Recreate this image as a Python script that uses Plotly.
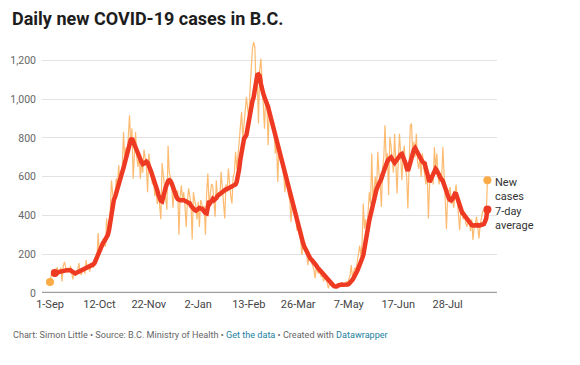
import pandas as pd
import plotly.graph_objects as go

start_date = "2020-09-01"

# Daily new cases (one value per day from 1-Sep)
new_cases = [
    57, 100, 120, 90, 110, 125, 130, 100, 115, 130,
    60, 140, 160, 120, 105, 130, 115, 140, 100, 70,
    110, 90, 100, 120, 155, 100, 95, 110, 130, 100,
    170, 120, 140, 110, 150, 145, 130, 170, 160, 180,
    310, 200, 250, 230, 280, 250, 240, 385, 300, 350,
    420, 580, 500, 450, 500, 590, 550, 660, 570, 600,
    650, 830, 690, 750, 700, 810, 917, 760, 850, 590,
    720, 830, 700, 650, 720, 590, 680, 620, 740, 700,
    650, 520, 720, 660, 600, 560, 580, 500, 540, 460,
    520, 430, 380, 670, 600, 560, 480, 430, 760, 620,
    600, 560, 440, 520, 500, 480, 530, 300, 500, 556,
    480, 520, 450, 340, 470, 540, 500, 460, 276, 520,
    480, 450, 380, 470, 340, 480, 460, 420, 450, 300,
    520, 616, 460, 500, 560, 556, 480, 393, 582, 480,
    520, 500, 625, 540, 500, 385, 560, 520, 642, 560,
    500, 462, 600, 620, 728, 640, 700, 780, 860, 934,
    800, 880, 960, 1011, 950, 900, 1050, 1150, 1260, 1294,
    1270, 1050, 1100, 874, 1150, 1209, 1100, 1000, 848, 1011,
    980, 762, 950, 920, 850, 880, 820, 720, 780, 573,
    750, 700, 680, 640, 600, 520, 620, 560, 500, 480,
    367, 470, 440, 400, 380, 320, 360, 300, 280, 196,
    260, 240, 220, 200, 144, 190, 170, 160, 140, 120,
    76, 130, 110, 100, 115, 85, 90, 60, 80, 70,
    55, 24, 50, 45, 40, 30, 35, 25, 40, 50,
    45, 40, 55, 35, 45, 40, 60, 50, 70, 90,
    144, 80, 110, 130, 120, 170, 200, 244, 190, 260,
    462, 330, 380, 307, 420, 520, 460, 719, 480, 550,
    600, 520, 728, 620, 560, 444, 640, 700, 865, 680,
    720, 505, 805, 760, 700, 620, 822, 700, 513, 680,
    822, 720, 582, 700, 760, 640, 600, 436, 700, 865,
    874, 720, 780, 700, 822, 680, 640, 700, 599, 720,
    660, 600, 560, 640, 385, 560, 600, 620, 560, 753,
    640, 719, 600, 560, 620, 580, 753, 560, 480, 330,
    500, 520, 547, 460, 500, 440, 520, 560, 480, 420,
    324, 440, 400, 380, 420, 360, 341, 380, 360, 320,
    380, 273, 340, 360, 393, 330, 282, 350, 380, 420,
    427, 410, 400, 582,
]

# 7-day average, starting on day index 4
avg_first_day = 4
seven_day_avg = [
    103, 105, 108, 110, 110, 112, 112, 114, 115, 116,
    118, 118, 119, 118, 112, 106, 102, 101, 104, 107,
    110, 111, 114, 117, 119, 121, 124, 127, 130, 133,
    138, 143, 148, 155, 170, 190, 210, 225, 240, 250,
    258, 266, 275, 285, 300, 325, 370, 420, 460, 480,
    495, 520, 540, 560, 585, 605, 625, 645, 670, 700,
    730, 750, 770, 790, 798, 780, 765, 750, 735, 710,
    700, 690, 675, 665, 668, 675, 678, 672, 660, 645,
    625, 605, 590, 575, 555, 530, 505, 488, 475, 472,
    490, 520, 545, 565, 578, 582, 578, 565, 545, 525,
    512, 495, 485, 480, 478, 478, 480, 478, 476, 472,
    472, 470, 462, 450, 440, 432, 428, 425, 430, 436,
    438, 436, 435, 428, 418, 412, 410, 440, 475, 465,
    480, 485, 478, 482, 490, 500, 505, 510, 520, 525,
    530, 532, 535, 537, 540, 542, 545, 548, 552, 555,
    560, 575, 600, 640, 690, 735, 775, 795, 805, 815,
    850, 890, 930, 960, 990, 1010, 1060, 1110, 1125, 1128,
    1120, 1080, 1040, 1028, 1010, 995, 985, 960, 935, 910,
    888, 865, 840, 815, 790, 765, 745, 728, 700, 675,
    645, 618, 592, 565, 540, 515, 490, 470, 453, 425,
    400, 370, 342, 316, 295, 275, 258, 240, 225, 213,
    200, 188, 178, 172, 166, 161, 152, 142, 132, 125,
    118, 110, 100, 92, 84, 76, 68, 62, 58, 52,
    46, 40, 35, 32, 34, 38, 42, 45, 44, 43,
    42, 41, 41, 44, 47, 52, 60, 68, 78, 88,
    100, 115, 130, 153, 165, 178, 195, 225, 265, 305,
    340, 375, 405, 435, 460, 490, 518, 535, 550, 562,
    572, 590, 610, 630, 648, 665, 680, 690, 698, 700,
    690, 680, 672, 680, 690, 700, 710, 715, 718, 705,
    690, 670, 645, 630, 650, 675, 700, 725, 740, 748,
    735, 720, 705, 692, 682, 678, 672, 668, 640, 610,
    585, 573, 585, 600, 620, 635, 640, 632, 615, 605,
    595, 585, 578, 560, 540, 520, 500, 488, 480, 478,
    485, 500, 512, 510, 490, 465, 440, 425, 415, 408,
    400, 392, 382, 372, 362, 355, 350, 348, 350, 352,
    351, 350, 348, 349, 350, 350, 355, 368, 385, 431,
]

tick_dates = ["2020-09-01", "2020-10-12", "2020-11-22", "2021-01-02", "2021-02-13",
              "2021-03-26", "2021-05-07", "2021-06-17", "2021-07-28"]
tick_labels = ["1-Sep", "12-Oct", "22-Nov", "2-Jan", "13-Feb", "26-Mar", "7-May", "17-Jun", "28-Jul"]
y_ticks = [0, 200, 400, 600, 800, 1000, 1200]

dates = pd.date_range(start_date, periods=len(new_cases), freq="D")
avg_dates = dates[avg_first_day:avg_first_day + len(seven_day_avg)]

# ---- layout geometry (page pixels; the page body adds an 8px offset) ----
OFF = 8
W, H = 580 - OFF, 365 - OFF
PLOT_L, PLOT_R, PLOT_T, PLOT_B = 42, 497, 41, 293   # page pixel box of the plot
L = PLOT_L - OFF
T = PLOT_T - OFF
R = W - (PLOT_R - OFF)
B = H - (PLOT_B - OFF)
pw, ph = W - L - R, H - T - B


def px(xp):
    return (xp - OFF - L) / pw


def py(yp):
    return (H - B - (yp - OFF)) / ph


ORANGE_LINE = "#fdb462"
ORANGE_DOT = "#fbab45"
RED = "#ee3a22"

fig = go.Figure()
fig.add_trace(go.Scatter(x=dates, y=new_cases, mode="lines",
                         line=dict(color=ORANGE_LINE, width=1.2), opacity=0.9,
                         hoverinfo="skip"))
fig.add_trace(go.Scatter(x=avg_dates, y=seven_day_avg, mode="lines",
                         line=dict(color=RED, width=4.5), hoverinfo="skip"))
fig.add_trace(go.Scatter(x=[dates[0], dates[-1]], y=[new_cases[0], new_cases[-1]],
                         mode="markers", marker=dict(color=ORANGE_DOT, size=8),
                         cliponaxis=False, hoverinfo="skip"))
fig.add_trace(go.Scatter(x=[avg_dates[0], avg_dates[-1]], y=[seven_day_avg[0], seven_day_avg[-1]],
                         mode="markers", marker=dict(color=RED, size=8),
                         cliponaxis=False, hoverinfo="skip"))

PX_PER_DAY = 1.205
day0 = pd.Timestamp(start_date)
x_lo = day0 - pd.Timedelta(days=(50 - PLOT_L) / PX_PER_DAY)
x_hi = day0 + pd.Timedelta(days=(PLOT_R - 50) / PX_PER_DAY)

fig.update_layout(
    width=W, height=H,
    margin=dict(l=L, r=R, t=T, b=B, autoexpand=False),
    paper_bgcolor="white", plot_bgcolor="white",
    showlegend=False,
    font=dict(family="Roboto", color="#333"),
    xaxis=dict(type="date", range=[x_lo, x_hi], tickvals=tick_dates, ticktext=tick_labels,
               showgrid=False, showline=False, zeroline=False, ticks="", automargin=False,
               tickfont=dict(size=11, color="#444"), ticklabelstandoff=3),
    yaxis=dict(range=[0, 1300], tickvals=y_ticks, tickformat=",", automargin=False,
               showgrid=True, gridcolor="#e2e2e2", gridwidth=1,
               showline=False, zeroline=False, ticks="",
               tickfont=dict(size=10.5, color="#666"), ticklabelstandoff=5),
    shapes=[dict(type="line", xref="paper", yref="y", x0=0, x1=1, y0=0, y1=0,
                 line=dict(color="#9e9e9e", width=2.5), layer="above")],
)

annotations = [
    dict(text="<b>Daily new COVID-19 cases in B.C.</b>", x=px(10), y=py(18),
         xanchor="left", yanchor="middle", font=dict(size=18, color="#1d1d1d")),
    dict(text="Chart: Simon Little • Source: B.C. Ministry of Health • "
              "<span style='color:#1d81a2'>Get the data</span> • Created with "
              "<span style='color:#1d81a2'>Datawrapper</span>",
         x=px(11), y=py(335), xanchor="left", yanchor="middle",
         font=dict(size=9.1, color="#666")),
]
for a in annotations:
    a.update(xref="paper", yref="paper", showarrow=False)
fig.update_layout(annotations=annotations)

fig.add_annotation(x=dates[-1], y=new_cases[-1], xref="x", yref="y", text="New<br>cases",
                   showarrow=False, xanchor="left", yanchor="middle", align="left",
                   xshift=6, yshift=-9, font=dict(size=11, color="#333"))
fig.add_annotation(x=avg_dates[-1], y=seven_day_avg[-1], xref="x", yref="y", text="7-day<br>average",
                   showarrow=False, xanchor="left", yanchor="middle", align="left",
                   xshift=6, yshift=-9, font=dict(size=11, color="#333"))

fig.write_html("out.html")
